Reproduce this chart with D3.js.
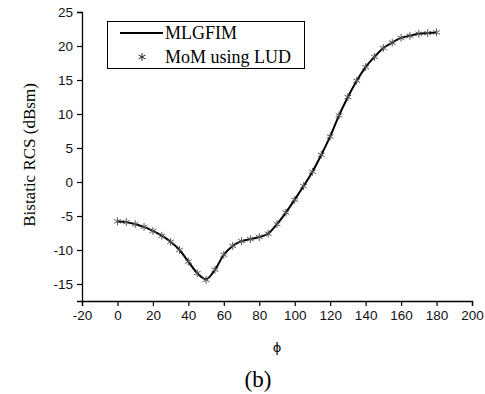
<!DOCTYPE html>
<html><head><meta charset="utf-8">
<script src="https://cdn.jsdelivr.net/npm/d3@7"></script>
<style>body{margin:0;background:#fff}svg{display:block}</style>
</head><body>
<svg id="c" width="485" height="394"></svg>
<script>
const phi = [0,5,10,15,20,25,30,35,40,45,50,55,60,65,70,75,80,85,90,95,100,105,110,115,120,125,130,135,140,145,150,155,160,165,170,175,180];
const mlgfim = [-5.8,-5.9,-6.2,-6.6,-7.2,-7.9,-8.8,-10.0,-11.7,-13.4,-14.3,-12.9,-10.7,-9.4,-8.7,-8.4,-8.1,-7.6,-6.2,-4.5,-2.6,-0.6,1.5,4.0,6.7,9.8,12.5,14.9,16.9,18.4,19.7,20.5,21.2,21.5,21.8,21.9,22.0];
const mom = [-5.8,-5.9,-6.2,-6.6,-7.2,-7.9,-8.8,-10.0,-11.7,-13.4,-14.4,-12.9,-10.7,-9.4,-8.7,-8.4,-8.1,-7.6,-6.2,-4.5,-2.6,-0.6,1.5,4.0,6.7,9.8,12.5,14.9,16.9,18.4,19.7,20.5,21.2,21.5,21.8,21.9,22.0];
const xTicks = [-20,0,20,40,60,80,100,120,140,160,180,200];
const yTicks = [-15,-10,-5,0,5,10,15,20,25];
const legendLabels = ["MLGFIM","MoM using LUD"];

const svg = d3.select("#c");
const x = d3.scaleLinear().domain([-20,200]).range([82,472]);
const y = d3.scaleLinear().domain([-17.5,25]).range([301,12]);

const sans = "Liberation Sans, Arial, sans-serif";
const serif = "Liberation Serif, Times New Roman, serif";
const fmt = d => String(d);

// minor ticks
const xMinor = d3.range(-10,200,20);
const yMinor = d3.range(-12.5,25,5);
const gx = svg.append("g").attr("transform",`translate(0,${y(-17.5)})`);
gx.call(d3.axisBottom(x).tickValues(xMinor).tickSize(3).tickFormat(""));
gx.call(d3.axisBottom(x).tickValues(xTicks).tickSize(5).tickPadding(4).tickFormat(fmt));
gx.selectAll(".domain").attr("stroke","#000").attr("stroke-width",1.3);
gx.selectAll("line").attr("stroke","#000").attr("stroke-width",1.2);
gx.selectAll("text").attr("font-family",sans).attr("font-size",13.5).attr("fill","#111");

const gy = svg.append("g").attr("transform",`translate(${x(-20)},0)`);
gy.call(d3.axisLeft(y).tickValues(yMinor).tickSize(3).tickFormat(""));
gy.call(d3.axisLeft(y).tickValues(yTicks).tickSize(5).tickPadding(4).tickFormat(fmt));
gy.selectAll(".domain").attr("stroke","#000").attr("stroke-width",1.3);
gy.selectAll("line").attr("stroke","#000").attr("stroke-width",1.2);
gy.selectAll("text").attr("font-family",sans).attr("font-size",13.5).attr("fill","#111");

// curve
const line = d3.line().x((d,i)=>x(phi[i])).y(d=>y(d)).curve(d3.curveMonotoneX);
svg.append("path").datum(mlgfim).attr("d",line).attr("fill","none").attr("stroke","#000").attr("stroke-width",2);

// asterisk markers
const star = d3.symbol().type(d3.symbolAsterisk).size(42);
svg.append("g").selectAll("path").data(mom).join("path")
  .attr("transform",(d,i)=>`translate(${x(phi[i])},${y(d)})`)
  .attr("d",star).attr("fill","none").attr("stroke","#555").attr("stroke-width",1);

// legend
const lg = svg.append("g");
lg.append("rect").attr("x",107.5).attr("y",21.5).attr("width",197).attr("height",47)
  .attr("fill","#fff").attr("stroke","#000").attr("stroke-width",1);
lg.append("line").attr("x1",120).attr("x2",163).attr("y1",33).attr("y2",33).attr("stroke","#000").attr("stroke-width",2);
lg.append("path").attr("transform","translate(142,57)").attr("d",star).attr("fill","none").attr("stroke","#222").attr("stroke-width",1);
lg.selectAll("text").data(legendLabels).join("text")
  .attr("x",165).attr("y",(d,i)=>39+i*24)
  .attr("font-family",serif).attr("font-size",18).attr("fill","#000").text(d=>d);

// axis titles
svg.append("text").attr("transform","translate(35,155) rotate(-90)").attr("text-anchor","middle")
  .attr("font-family",serif).attr("font-size",17).attr("fill","#000").text("Bistatic RCS (dBsm)");
svg.append("text").attr("x",277).attr("y",352).attr("text-anchor","middle")
  .attr("font-family","DejaVu Sans, sans-serif").attr("font-size",13).attr("fill","#000").text("\u03D5");
svg.append("text").attr("x",258).attr("y",387).attr("text-anchor","middle")
  .attr("font-family",serif).attr("font-size",23).attr("fill","#000").text("(b)");
</script>
</body></html>
